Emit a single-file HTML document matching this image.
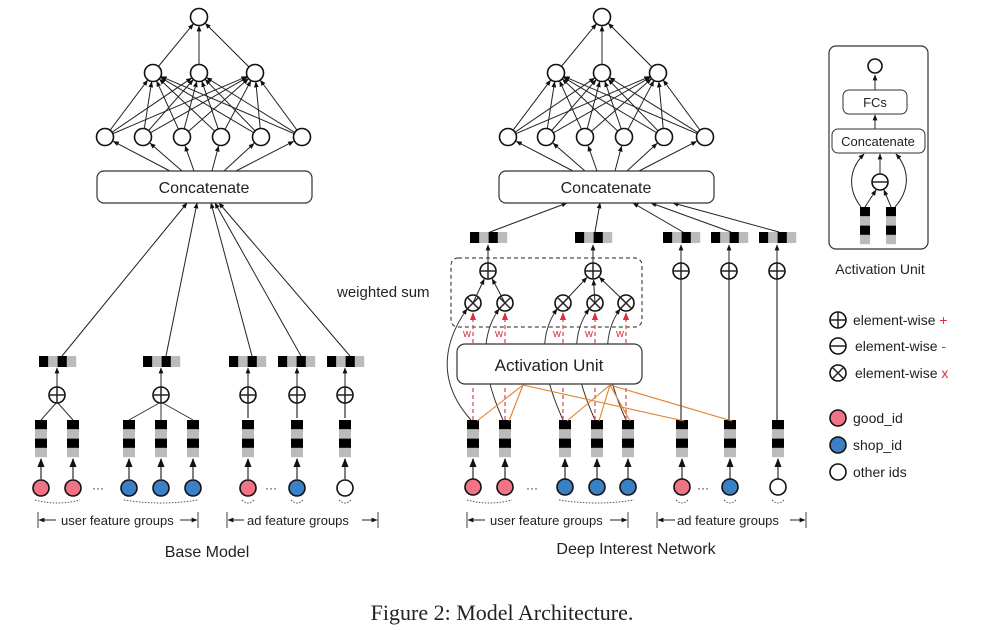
<!DOCTYPE html>
<html><head><meta charset="utf-8"><style>
html,body{margin:0;padding:0;background:#fff}
svg{display:block}
text{font-family:"Liberation Sans",sans-serif;fill:#222}
</style></head><body>
<svg id="s" width="995" height="631" viewBox="0 0 995 631" xmlns="http://www.w3.org/2000/svg">
<defs>
<marker id="a" viewBox="0 0 10 10" refX="9" refY="5" markerWidth="6" markerHeight="6" orient="auto"><path d="M0,1 L10,5 L0,9 z" fill="#111"/></marker>
<marker id="ar" viewBox="0 0 10 10" refX="9" refY="5" markerWidth="6" markerHeight="6" orient="auto"><path d="M0,1 L10,5 L0,9 z" fill="#d9303a"/></marker>
</defs>
<g id="g"></g>
<rect x="97" y="171" width="215" height="32" rx="7" fill="#fff" stroke="#333" stroke-width="1.2"/>
<text x="204" y="193" font-size="16" text-anchor="middle">Concatenate</text>
<rect x="499" y="171" width="215" height="32" rx="7" fill="#fff" stroke="#333" stroke-width="1.2"/>
<text x="606" y="193" font-size="16" text-anchor="middle">Concatenate</text>
<text x="337" y="297" font-size="15">weighted sum</text>
<text x="61" y="525" font-size="13" fill="#333">user feature groups</text>
<text x="247" y="525" font-size="13" fill="#333">ad feature groups</text>
<text x="207" y="557" font-size="16" text-anchor="middle">Base Model</text>
<text x="490" y="525" font-size="13" fill="#333">user feature groups</text>
<text x="677" y="525" font-size="13" fill="#333">ad feature groups</text>
<text x="636" y="554" font-size="16" text-anchor="middle">Deep Interest Network</text>
<rect x="829" y="46" width="99" height="203" rx="7" fill="none" stroke="#333" stroke-width="1.2"/>
<rect x="843" y="90" width="64" height="24" rx="6" fill="#fff" stroke="#333"/>
<text x="875" y="107" font-size="13" text-anchor="middle">FCs</text>
<rect x="832" y="129" width="93" height="24" rx="6" fill="#fff" stroke="#333"/>
<text x="878" y="146" font-size="13" text-anchor="middle">Concatenate</text>
<text x="880" y="274" font-size="14" text-anchor="middle">Activation Unit</text>
<text x="853" y="325" font-size="14">element-wise <tspan fill="#d9303a">+</tspan></text>
<text x="855" y="351" font-size="14">element-wise <tspan fill="#d9303a">-</tspan></text>
<text x="855" y="378" font-size="14">element-wise <tspan fill="#d9303a">x</tspan></text>
<text x="853" y="423" font-size="14">good_id</text>
<text x="853" y="450" font-size="14">shop_id</text>
<text x="853" y="477" font-size="14">other ids</text>
<text x="502" y="620" font-size="22" text-anchor="middle" style="font-family:'Liberation Serif',serif">Figure 2: Model Architecture.</text>
<text x="92" y="492" font-size="12">···</text>
<text x="265" y="492" font-size="12">···</text>
<text x="526" y="492" font-size="12">···</text>
<text x="697" y="492" font-size="12">···</text>
</svg>
<script>
var NS="http://www.w3.org/2000/svg",G=document.getElementById('g');
function el(t,a,p){var e=document.createElementNS(NS,t);for(var k in a)e.setAttribute(k,a[k]);(p||G).appendChild(e);return e;}
function line(x1,y1,x2,y2,o){o=o||{};var a={x1:x1,y1:y1,x2:x2,y2:y2,stroke:o.c||'#222','stroke-width':o.w||1};if(o.arr)a['marker-end']='url(#'+(o.arr===2?'ar':'a')+')';if(o.d)a['stroke-dasharray']=o.d;return el('line',a,o.p);}
function arrTo(x1,y1,cx,cy,r,o){var dx=cx-x1,dy=cy-y1,L=Math.hypot(dx,dy);o=o||{};o.arr=o.arr||1;return line(x1,y1,cx-dx/L*r,cy-dy/L*r,o);}
function circ(x,y,r,f,p){return el('circle',{cx:x,cy:y,r:r,fill:f||'#fff',stroke:'#111','stroke-width':1.6},p);}
function op(x,y,t,p){circ(x,y,8,'#fff',p);if(t=='+'){line(x-8,y,x+8,y,{w:1.5,p:p});line(x,y-8,x,y+8,{w:1.5,p:p});}
 else if(t=='-'){line(x-8,y,x+8,y,{w:1.5,p:p});}
 else{var d=5.6;line(x-d,y-d,x+d,y+d,{w:1.5,p:p});line(x-d,y+d,x+d,y-d,{w:1.5,p:p});}}
function vbar(x,y,p){var c=['#000','#bbb','#000','#bbb'];for(var i=0;i<4;i++)el('rect',{x:x-6,y:y+i*9.3,width:12,height:9.3,fill:c[i]},p);}
function hbar(x,y,p){var c=['#000','#bbb','#000','#bbb'];for(var i=0;i<4;i++)el('rect',{x:x+i*9.3,y:y,width:9.3,height:11,fill:c[i]},p);}
var PINK='#f07484',BLUE='#3b7fc4';
function mlp(dx){var t=[199+dx,17],h2=[153,199,255].map(function(x){return x+dx}),h1=[105,143,182,221,261,302].map(function(x){return x+dx});
 h2.forEach(function(x){arrTo(x,73,t[0],t[1],9);});
 h1.forEach(function(a){h2.forEach(function(b){arrTo(a,137,b,73,9);});});
 var cs=[170,182,194,212,224,236];h1.forEach(function(a,i){arrTo(cs[i]+dx,171,a,137,9.5);});
 circ(t[0],t[1],8.5);h2.forEach(function(x){circ(x,73,8.5)});h1.forEach(function(x){circ(x,137,8.5)});}
mlp(0);mlp(403);
function darc(x1,x2,y){el('path',{d:'M'+x1+','+y+' Q'+((x1+x2)/2)+','+(y+6)+' '+x2+','+y,fill:'none',stroke:'#555','stroke-dasharray':'1.5,1.5'});}
function bracket(x1,x2,t1,t2){line(x1,512,x1,528,{c:'#444'});line(x2,512,x2,528,{c:'#444'});line(t1,520,x1+1,520,{arr:1});line(t2,520,x2-1,520,{arr:1});}
var bx=[41,73,129,161,193,248,297,345],bc=[PINK,PINK,BLUE,BLUE,BLUE,PINK,BLUE,'#fff'];
bx.forEach(function(x,i){line(x,479,x,459,{arr:1,c:'#555',w:1.5});vbar(x,420);circ(x,488,8,bc[i]);});
darc(35,80,500);darc(124,198,500);darc(242,254,500);darc(291,303,500);darc(339,351,500);
bracket(38,198,56,180);bracket(227,378,244,362);
[[57,[41,73]],[161,[129,161,193]]].forEach(function(g){g[1].forEach(function(x){line(x,420,g[0],402,{c:'#333'});});line(g[0],387,g[0],368,{arr:1});op(g[0],395,'+');});
[248,297,345].forEach(function(x){line(x,418,x,403,{c:'#555',w:1.5});line(x,387,x,368,{arr:1});op(x,395,'+');});
var bo=[39,143,229,278,327],bt=[187,197,211,215,219];
bo.forEach(function(x,i){hbar(x,356);line(x+23,356,bt[i],203,{arr:1});});
var dx=[473,505,565,597,628,682,730,778],dc=[PINK,PINK,BLUE,BLUE,BLUE,PINK,BLUE,'#fff'];
dx.forEach(function(x,i){line(x,479,x,459,{arr:1,c:'#555',w:1.5});vbar(x,420);circ(x,487,8,dc[i]);});
darc(467,512,500);darc(559,634,500);darc(676,688,500);darc(724,736,500);darc(772,784,500);
bracket(467,628,485,610);bracket(657,806,675,790);
el('rect',{x:451,y:258,width:191,height:69,rx:7,fill:'none',stroke:'#222','stroke-dasharray':'4,3'});
var ox=[473,505,563,595,626];
var us=[473,505,565,597,628];
us.forEach(function(x,i){var tx=ox[i]-6,ty=309;var c1x=x-(i==0?38:20);el('path',{d:'M'+(x-2)+',420 C'+c1x+',380 '+(tx-22)+',340 '+tx+','+ty,fill:'none',stroke:'#333','stroke-width':1,'marker-end':'url(#a)'});});
el('rect',{x:457,y:344,width:185,height:40,rx:8,fill:'#fff',stroke:'#333','stroke-width':1.2});
el('text',{x:549,y:371,'font-size':17,'text-anchor':'middle'}).textContent='Activation Unit';
ox.forEach(function(x,i){line(x,420,x,385,{c:'#e0505a',w:1.3,d:'4,3'});line(x,343,x,313,{c:'#e0505a',w:1.3,d:'4,3',arr:2});var t=el('text',{x:x-10,y:337,'font-size':11,fill:'#d9303a'});t.textContent='w';t.style.fill='#d9303a';});
var O={c:'#e0812a',w:1.1};
[[523,[475,507,682]],[610,[565,597,628,730]]].forEach(function(g){g[1].forEach(function(x){line(g[0],385,x+2,421,O);});});
ox.forEach(function(x){op(x,303,'x');});
[[488,[473,505]],[593,[563,595,626]]].forEach(function(g){g[1].forEach(function(x){arrTo(x,303,g[0],271,9);});line(g[0],263,g[0],245,{arr:1});op(g[0],271,'+');});
[681,729,777].forEach(function(x){line(x,420,x,279,{c:'#666',w:1.6});line(x,263,x,245,{arr:1});op(x,271,'+');});
var dob=[470,575,663,711,759],dt=[567,600,633,651,673];
dob.forEach(function(x,i){hbar(x,232);line(x+20,232,dt[i],203,{arr:1});});
circ(875,66,7);line(875,90,875,75,{arr:1});line(875,129,875,115,{arr:1});
line(865,207,876,190,{arr:1});line(891,207,884,190,{arr:1});line(880,174,880,154,{arr:1});
el('path',{d:'M861,207 C848,190 848,170 864,154',fill:'none',stroke:'#222','marker-end':'url(#a)'});
el('path',{d:'M895,207 C910,190 910,170 896,154',fill:'none',stroke:'#222','marker-end':'url(#a)'});
op(880,182,'-');
[865,891].forEach(function(x){var c=['#000','#bbb','#000','#bbb'];for(var i=0;i<4;i++)el('rect',{x:x-5,y:207+i*9.3,width:10,height:9.3,fill:c[i]});});
op(838,320,'+');op(838,346,'-');op(838,373,'x');
circ(838,418,8,PINK);circ(838,445,8,BLUE);circ(838,472,8,'#fff');
</script>
</body></html>
